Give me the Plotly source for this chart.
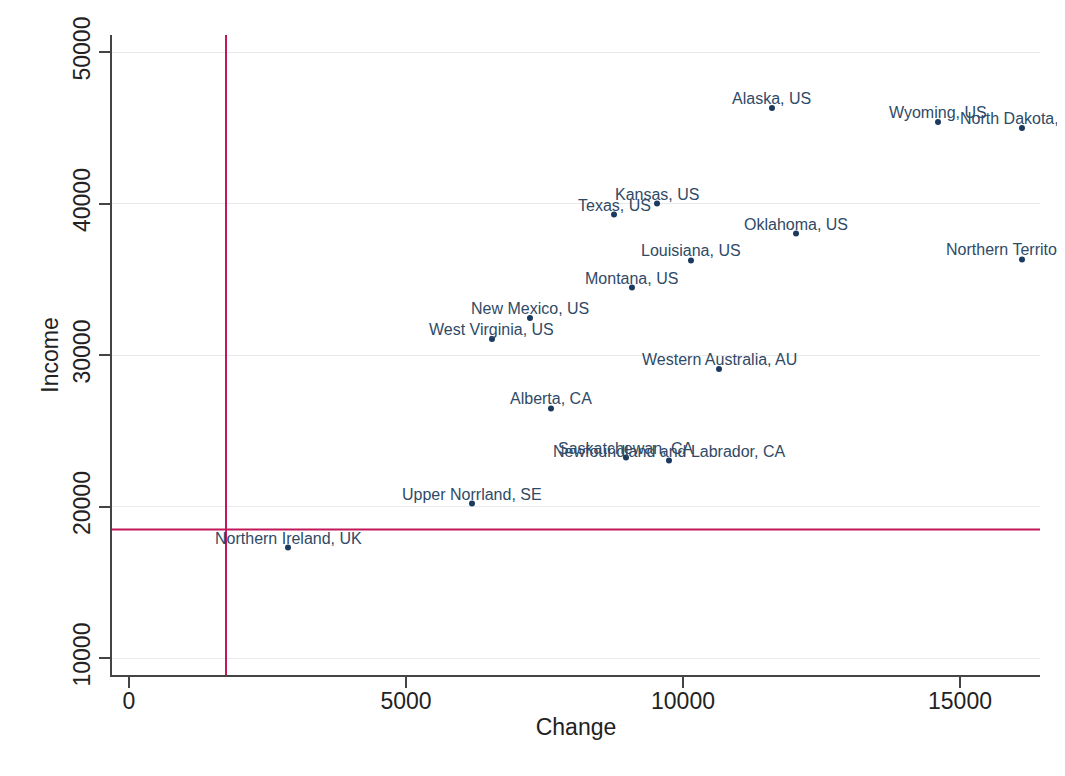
import plotly.graph_objects as go

names = ["Alaska, US", "Wyoming, US", "North Dakota, US", "Kansas, US", "Texas, US",
         "Oklahoma, US", "Northern Territory, AU", "Louisiana, US", "Montana, US",
         "New Mexico, US", "West Virginia, US", "Western Australia, AU", "Alberta, CA",
         "Saskatchewan, CA", "Newfoundland and Labrador, CA", "Upper Norrland, SE",
         "Northern Ireland, UK"]
change = [11606, 14603, 16119, 9531, 8755, 12040, 16119, 10144, 9079, 7238, 6552,
          10650, 7617, 8971, 9747, 6191, 2870]
income = [46304, 45380, 44984, 40000, 39274, 38020, 36304, 36238, 34455, 32442, 31056,
          29076, 26469, 23234, 23036, 20198, 17294]

mean_change = 1751
mean_income = 18482

x_ticks = [0, 5000, 10000, 15000]
x_labels = ["0", "5000", "10000", "15000"]
y_ticks = [10000, 20000, 30000, 40000, 50000]
y_labels = ["10000", "20000", "30000", "40000", "50000"]

fig = go.Figure()
fig.add_trace(go.Scatter(
    x=change, y=income, mode="markers",
    marker=dict(size=6, color="#1a3a5f"),
    cliponaxis=False, showlegend=False,
))
for n, cx, iy in zip(names, change, income):
    fig.add_annotation(
        x=cx, y=iy, text=n, showarrow=False, xanchor="center", yanchor="bottom",
        yshift=0, borderpad=0,
        font=dict(family="Liberation Sans, Arial", size=16, color="#2f4a66"),
    )
fig.add_vline(x=mean_change, line=dict(color="#c2185b", width=2))
fig.add_hline(y=mean_income, line=dict(color="#c2185b", width=2))

fig.update_layout(
    width=1065, height=776,
    margin=dict(l=104, r=33, t=27, b=109),
    paper_bgcolor="white", plot_bgcolor="white",
    font=dict(family="Liberation Sans, Arial", color="#222"),
    xaxis=dict(
        range=[-307, 16444], tickvals=x_ticks, ticktext=x_labels, ticks="outside", ticklen=11,
        tickcolor="#444", tickwidth=1.5, showline=True, linecolor="#444", linewidth=1.5,
        showgrid=False, zeroline=False, tickfont=dict(size=23, color="#222"),
        automargin=False, ticklabelstandoff=-6,
        title=dict(text="Change", font=dict(size=23, color="#222"), standoff=6),
    ),
    yaxis=dict(
        range=[8878, 51122], tickvals=y_ticks, ticktext=y_labels, ticks="outside", ticklen=11,
        tickcolor="#444", tickwidth=1.5, showline=True, linecolor="#444", linewidth=1.5,
        showgrid=True, gridcolor="#e6eaee", gridwidth=1, zeroline=False,
        tickangle=-90, tickfont=dict(size=23, color="#222"), automargin=False,
        title=dict(text="Income", font=dict(size=23, color="#222"), standoff=4),
    ),
)

fig.write_html("out.html")
